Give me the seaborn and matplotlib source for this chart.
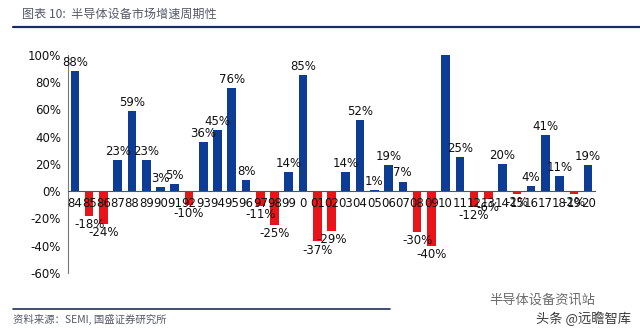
import matplotlib
matplotlib.use("Agg")
import matplotlib.pyplot as plt
import seaborn as sns
import pandas as pd
import numpy as np

# Semiconductor equipment market growth, yoy %
years = ["84", "85", "86", "87", "88", "89", "90", "91", "92", "93", "94", "95",
         "96", "97", "98", "99", "0", "01", "02", "03", "04", "05", "06", "07",
         "08", "09", "10", "11", "12", "13", "14", "15", "16", "17", "18", "19", "20"]
growth = [88, -18, -24, 23, 59, 23, 3, 5, -10, 36, 45, 76,
          8, -11, -25, 14, 85, -37, -29, 14, 52, 1, 19, 7,
          -30, -40, 148, 25, -12, -6, 20, -2, 4, 41, 11, -2, 19]
y_ticks = [-60, -40, -20, 0, 20, 40, 60, 80, 100]

title_text = "图表 10:  半导体设备市场增速周期性"
source_text = "资料来源：SEMI, 国盛证券研究所"

BLUE = "#0D3C94"
RED = "#E8141A"
NAVY = "#1B2F5E"

df = pd.DataFrame({"year": years, "growth": growth})
df["sign"] = np.where(df["growth"] >= 0, "up", "down")

sns.set_theme(style="white")
plt.rcParams["font.family"] = ["DejaVu Sans", "Noto Sans CJK SC"]

fig = plt.figure(figsize=(6.4, 3.31), dpi=100)
ax = fig.add_axes([0.106, 0.176, 0.824, 0.658])

sns.barplot(data=df, x="year", y="growth", hue="sign", order=years,
            palette={"up": BLUE, "down": RED}, dodge=False, legend=False,
            width=0.6, saturation=1, linewidth=0, ax=ax)

ymin, ymax = -60, 100
ax.set_ylim(ymin, ymax)
ax.set_xlim(-0.5, len(years) - 0.5)
ax.set_yticks(y_ticks)
ax.set_yticklabels([f"{t}%" for t in y_ticks], fontsize=8.5)
ax.set_xlabel("")
ax.set_ylabel("")

# Value labels: above positive bars, below negative ones
for i, v in enumerate(growth):
    if v > ymax:
        continue
    if v >= 0:
        ax.annotate(f"{v}%", (i, v), xytext=(0, 1.5), textcoords="offset points",
                    ha="center", va="bottom", fontsize=8.5, color="#111111")
    else:
        ax.annotate(f"{v}%", (i, v), xytext=(0, -1.5), textcoords="offset points",
                    ha="center", va="top", fontsize=8.5, color="#111111")

# Category axis sits on the zero line, drawn over the bars
ax.set_axisbelow(False)
for s in ["top", "right"]:
    ax.spines[s].set_visible(False)
ax.spines["bottom"].set_position(("data", 0))
ax.spines["bottom"].set_color("#555555")
ax.spines["bottom"].set_linewidth(0.8)
ax.spines["bottom"].set_zorder(3)
ax.spines["left"].set_color("#777777")
ax.spines["left"].set_linewidth(0.8)
ax.tick_params(axis="x", which="major", length=0, labelsize=8.5, pad=4)
ax.set_xticks(np.arange(len(years)) + 0.5, minor=True)
ax.tick_params(axis="x", which="minor", length=3, direction="in", color="#555555", width=0.6)
ax.tick_params(axis="y", length=3, direction="out", color="#777777", width=0.6, pad=2)
for lbl in ax.get_xticklabels():
    lbl.set_color("#111111")
for lbl in ax.get_yticklabels():
    lbl.set_color("#111111")
ax.set_facecolor("white")
ax.grid(False)

# Header and footer
fig.text(0.034, 0.958, title_text, fontsize=8.7, color="#555A6A", style="italic",
         family=["Noto Sans CJK SC", "DejaVu Sans"], va="center", ha="left")
fig.add_artist(plt.Line2D([0.02, 1.0], [0.918, 0.918], color=NAVY, linewidth=1.6))
fig.add_artist(plt.Line2D([0.02, 0.61], [0.067, 0.067], color=NAVY, linewidth=1.2))
fig.text(0.02, 0.036, source_text, fontsize=7.5, color="#555A6A", style="italic",
         family=["Noto Sans CJK SC", "DejaVu Sans"], va="center", ha="left")
fig.text(0.765, 0.094, "半导体设备资讯站", fontsize=9.5, color="#6A6A6A",
         family=["Noto Sans CJK SC", "DejaVu Sans"], va="center", ha="left")
fig.text(0.838, 0.036, "头条 @远瞻智库", fontsize=9.5, color="#3A3A3A",
         family=["Noto Sans CJK SC", "DejaVu Sans"], va="center", ha="left")

fig.savefig("out.png", dpi=100, facecolor="white")
